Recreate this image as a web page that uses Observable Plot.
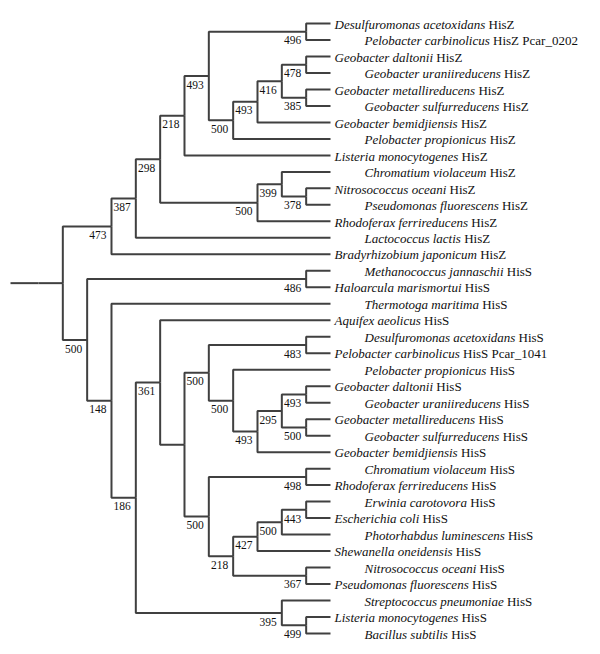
<!DOCTYPE html>
<html><head><meta charset="utf-8">
<script src="https://cdn.jsdelivr.net/npm/d3@7"></script>
<script src="https://cdn.jsdelivr.net/npm/@observablehq/plot@0.6"></script>
<style>
body{margin:0;background:#fff;overflow:hidden}
</style>
</head><body><div id="chart"></div>
<script>
// Leaf taxa, top to bottom
const species = [
  "Desulfuromonas acetoxidans", "Pelobacter carbinolicus", "Geobacter daltonii", "Geobacter uraniireducens",
  "Geobacter metallireducens", "Geobacter sulfurreducens", "Geobacter bemidjiensis", "Pelobacter propionicus",
  "Listeria monocytogenes", "Chromatium violaceum", "Nitrosococcus oceani", "Pseudomonas fluorescens",
  "Rhodoferax ferrireducens", "Lactococcus lactis", "Bradyrhizobium japonicum", "Methanococcus jannaschii",
  "Haloarcula marismortui", "Thermotoga maritima", "Aquifex aeolicus", "Desulfuromonas acetoxidans",
  "Pelobacter carbinolicus", "Pelobacter propionicus", "Geobacter daltonii", "Geobacter uraniireducens",
  "Geobacter metallireducens", "Geobacter sulfurreducens", "Geobacter bemidjiensis", "Chromatium violaceum",
  "Rhodoferax ferrireducens", "Erwinia carotovora", "Escherichia coli", "Photorhabdus luminescens",
  "Shewanella oneidensis", "Nitrosococcus oceani", "Pseudomonas fluorescens", "Streptococcus pneumoniae",
  "Listeria monocytogenes", "Bacillus subtilis"
];
const genes = [
  "HisZ", "HisZ Pcar_0202", "HisZ", "HisZ", "HisZ", "HisZ", "HisZ", "HisZ", "HisZ", "HisZ", "HisZ", "HisZ",
  "HisZ", "HisZ", "HisZ", "HisS", "HisS", "HisS", "HisS", "HisS", "HisS Pcar_1041", "HisS", "HisS", "HisS",
  "HisS", "HisS", "HisS", "HisS", "HisS", "HisS", "HisS", "HisS", "HisS", "HisS", "HisS", "HisS", "HisS", "HisS"
];
// Topology (leaf = index into species), internal labels = bootstrap support
const topology =
  "((((((((0,1)496,((((2,3)478,(4,5)385)416,6)493,7)500)493,8)218,((9,(10,11)378)399,12)500)298,13)387,14)473," +
  "((15,16)486,(17,((18,(((19,20)483,(21,(((22,23)493,(24,25)500)295,26)493)500)500," +
  "((27,28)498,((((29,30)443,31)500,32)427,(33,34)367)218)500))361,(35,(36,37)499)395)186)148)500);";
const rootStub = 1.15; // length of the root stem, in node-depth units

function parseNewick(str) {
  const s = str.replace(/\s+/g, "");
  let i = 0;
  function readLabel() { let l = ""; while (i < s.length && /[0-9A-Za-z_.]/.test(s[i])) l += s[i++]; return l; }
  function node() {
    if (s[i] === "(") {
      i++;
      const children = [];
      while (true) {
        children.push(node());
        if (s[i] === ",") { i++; continue; }
        break;
      }
      i++; // ')'
      return {children, boot: readLabel()};
    }
    return {leaf: +readLabel()};
  }
  return node();
}

const root = d3.hierarchy(parseNewick(topology), d => d.children);
root.eachAfter(n => { n.ly = n.children ? d3.mean(n.children, c => c.ly) : n.data.leaf; });
const links = root.links().map(l => ({x1: l.source.height, y1: l.source.ly, x2: l.target.height, y2: l.target.ly}));
links.push({x1: root.height + rootStub, y1: root.ly, x2: root.height, y2: root.ly});
const boots = root.descendants().filter(n => n.children && n.data.boot)
  .map(n => ({x: n.height, y: n.ly, label: n.data.boot}));
const leaves = species.map((s, i) => ({x: 0, y: i, label: s + " " + genes[i]}));
const leavesA = leaves.filter(d => d.y % 2 === 0);
const leavesB = leaves.filter(d => d.y % 2 === 1);

const font = "Liberation Serif";
const plot = Plot.plot({
  width: 600, height: 654,
  margin: 0,
  style: {background: "#fff", color: "#111"},
  x: {domain: [root.height + rootStub, 0], range: [10, 330], axis: null},
  y: {domain: [0, species.length - 1], range: [23, 633], axis: null},
  marks: [
    Plot.link(links, {x1: "x1", y1: "y1", x2: "x2", y2: "y2", curve: "step-before", stroke: "#404040", strokeWidth: 2}),
    Plot.text(boots, {x: "x", y: "y", text: "label", textAnchor: "end", dx: -5, dy: 9, fontSize: 11.5, fill: "#111"}),
    Plot.text(leavesA, {x: "x", y: "y", text: "label", textAnchor: "start", dx: 4, dy: 1, fontSize: 13, fill: "#111"}),
    Plot.text(leavesB, {x: "x", y: "y", text: "label", textAnchor: "start", dx: 34, dy: 1, fontSize: 13, fill: "#111"})
  ]
});

// Serif font everywhere; italicise the species part of each leaf label
plot.setAttribute("font-family", font);
plot.querySelectorAll("g").forEach(g => { if (g.hasAttribute("font-family")) g.setAttribute("font-family", font); });
const byLabel = new Map(leaves.map(d => [d.label, d.y]));
plot.querySelectorAll("text").forEach(t => {
  t.setAttribute("font-family", font);
  const txt = t.textContent;
  if (!byLabel.has(txt)) return;
  const i = byLabel.get(txt);
  while (t.firstChild) t.removeChild(t.firstChild);
  const it = document.createElementNS("http://www.w3.org/2000/svg", "tspan");
  it.setAttribute("font-style", "italic");
  it.setAttribute("font-family", font);
  it.textContent = species[i];
  t.appendChild(it);
  t.appendChild(document.createTextNode(" " + genes[i]));
});
document.getElementById("chart").appendChild(plot);
</script>
</body></html>
